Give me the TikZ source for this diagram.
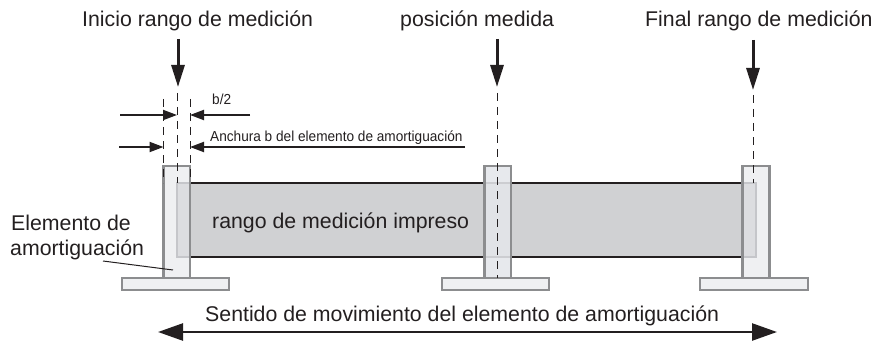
\documentclass[tikz,border=0pt]{standalone}
\usepackage{fontspec}
\setmainfont{Liberation Sans}
\newfontfamily\narrowfont[FakeStretch=0.94]{Liberation Sans}
\usetikzlibrary{positioning,arrows.meta}
\definecolor{colortext}  {RGB}{ 35, 31, 32}
\definecolor{colorpost}  {RGB}{228,230,234}
\definecolor{colorband}  {RGB}{208,209,211}
\definecolor{colorborder}{RGB}{140,141,143}

\begin{document}
\begin{tikzpicture}[
    x=1pt, y=-1pt,
    base/.style={text=colortext,font={\fontsize{21.3}{25}\selectfont},inner sep=0pt,align=left,anchor=base west},
    small/.style={text=colortext,font={\fontsize{14.5}{15}\selectfont\narrowfont},inner sep=0pt,anchor=base west},
    post/.style={draw=colorborder,line width=2.8pt,fill=colorpost,fill opacity=0.6},
    postmid/.style={post,fill opacity=0.88},
    foot/.style={draw=colorborder,line width=2.8pt,fill=colorpost!60!white},
    band/.style={draw=colorborder!90!white,line width=2.2pt,fill=colorband},
    edge/.style={draw=colortext,line width=2pt},
    dimline/.style={colortext,line width=2pt,-{Triangle[length=14pt,width=10pt]}},
    mainarrow/.style={colortext,line width=3pt,-{Triangle[length=22pt,width=13pt]}},
    bigdim/.style={colortext,line width=2.5pt,{Triangle[length=25pt,width=17pt]}-{Triangle[length=25pt,width=17pt]}},
    guide/.style={colortext,line width=1pt,dash pattern=on 8pt off 6pt},
    leader/.style={colortext,line width=1pt},
]

    \useasboundingbox (0,0) rectangle (872,342);

    % band
    \draw[band] (177,183) rectangle (756,257);
    \coordinate (bandtl) at (190,183);
    \coordinate (bandtr) at (743,183);
    \coordinate (bandbl) at (190,257);
    \coordinate (bandbr) at (743,257);
    \draw[edge] (bandtl) -- (bandtr);
    \draw[edge] (bandbl) -- (bandbr);

    % posts and feet
    \draw[post]    (163.5,166) rectangle (190,278);
    \draw[postmid] (484.5,166) rectangle (511,278);
    \draw[post]    (742.5,166) rectangle (769.5,278);
    \draw[foot] (122,278) rectangle (229,290);
    \draw[foot] (442,278) rectangle (549,290);
    \draw[foot] (700,278) rectangle (808,290);

    % texts
    \node[base] (inicio)  at (82,27)   {Inicio rango de medición};
    \node[base] (medida)  at (400,27)  {posición medida};
    \node[base] (final)   at (645,27)  {Final rango de medición};
    \node[small] (mitad)   at (212,105) {b/2};
    \node[small] (anchura) at (210,141) {Anchura b del elemento de amortiguación};
    \node[base] (impreso) at (212,228) {rango de medición impreso};
    \node[base] (elem1)   at (11,230)  {Elemento de};
    \node[base] (elem2)   at (10,255)  {amortiguación};
    \node[base] (sentido) at (205,321) {Sentido de movimiento del elemento de amortiguación};

    % down arrows
    \coordinate (startA) at (178,39);  \coordinate (tipA) at (178,87);
    \coordinate (startB) at (497,39);  \coordinate (tipB) at (497,87);
    \coordinate (startC) at (753,40);  \coordinate (tipC) at (753,90);
    \draw[mainarrow] (startA) -- (tipA);
    \draw[mainarrow] (startB) -- (tipB);
    \draw[mainarrow] (startC) -- (tipC);

    % dashed guides
    \coordinate (guideA1) at (163.5,99); \coordinate (guideA1e) at (163.5,183);
    \coordinate (guideA2) at (177,93);   \coordinate (guideA2e) at (177,183);
    \coordinate (guideA3) at (190,99);   \coordinate (guideA3e) at (190,183);
    \coordinate (guideB)  at (497,93);   \coordinate (guideBe)  at (497,278);
    \coordinate (guideC)  at (753,95);   \coordinate (guideCe)  at (753,183);
    \draw[guide] (guideA1) -- (guideA1e);
    \draw[guide] (guideA2) -- (guideA2e);
    \draw[guide] (guideA3) -- (guideA3e);
    \draw[guide] (guideB) -- (guideBe);
    \draw[guide] (guideC) -- (guideCe);

    % dimensions
    \coordinate (halfL) at (120,115);  \coordinate (halfLt) at (177,115);
    \coordinate (halfR) at (250,115);  \coordinate (halfRt) at (190,115);
    \coordinate (fullL) at (119,147);  \coordinate (fullLt) at (163.5,147);
    \coordinate (fullR) at (465,147);  \coordinate (fullRt) at (190,147);
    \draw[dimline] (halfL) -- (halfLt);
    \draw[dimline] (halfR) -- (halfRt);
    \draw[dimline] (fullL) -- (fullLt);
    \draw[dimline] (fullR) -- (fullRt);

    % leader and travel
    \coordinate (leadA) at (103,261);  \coordinate (leadB) at (173,270);
    \draw[leader] (leadA) -- (leadB);
    \coordinate (travelL) at (158,332);  \coordinate (travelR) at (777,332);
    \draw[bigdim] (travelL) -- (travelR);

\end{tikzpicture}
\end{document}
